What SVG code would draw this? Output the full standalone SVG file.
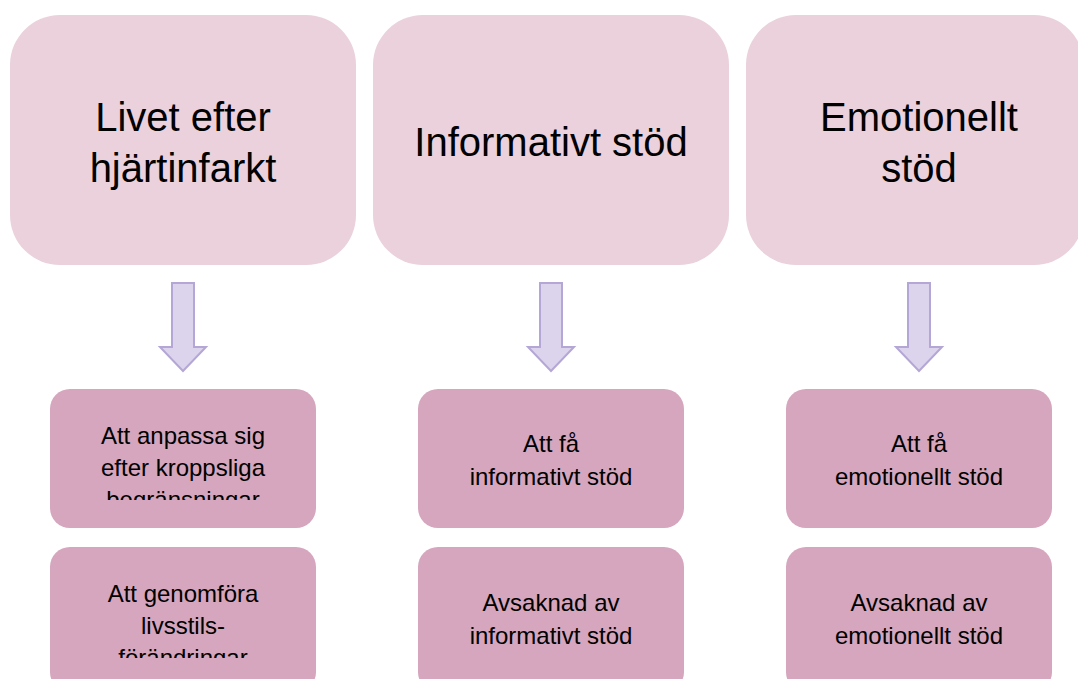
<svg xmlns="http://www.w3.org/2000/svg" width="1078" height="679" viewBox="0 0 1078 679">
<style>
.top{fill:#ead1dc}
.bot{fill:#d5a6bd}
.arrow{fill:#dcd4ec;stroke:#b4a7d6;stroke-width:2}
text{font-family:"Liberation Sans",Arial,sans-serif;fill:#000;text-anchor:middle}
.t1{font-size:40px}
.t2{font-size:24px}
</style>
<defs>
<clipPath id="c1"><rect x="50" y="389" width="266" height="111"/></clipPath>
<clipPath id="c2"><rect x="50" y="547" width="266" height="111"/></clipPath>
</defs>
<rect width="1078" height="679" fill="#fff"/>
<g id="n-livet"><rect class="top" x="10" y="15" width="346" height="250" rx="50"/><text class="t1" x="183" y="131">Livet efter</text><text class="t1" x="183" y="182">hjärtinfarkt</text></g>
<g id="n-info"><rect class="top" x="373" y="15" width="356" height="250" rx="50"/><text class="t1" x="551" y="156">Informativt stöd</text></g>
<g id="n-emo"><rect class="top" x="746" y="15" width="338" height="250" rx="50"/><text class="t1" x="919" y="131">Emotionellt</text><text class="t1" x="919" y="182">stöd</text></g>
<g id="connectors">
<path class="arrow" d="M172,283 H194 V347 H206 L183,371 L160,347 H172 Z"/>
<path class="arrow" d="M540,283 H562 V347 H574 L551,371 L528,347 H540 Z"/>
<path class="arrow" d="M908,283 H930 V347 H942 L919,371 L896,347 H908 Z"/>
</g>
<g id="n-anpassa"><rect class="bot" x="50" y="389" width="266" height="139" rx="20"/><g clip-path="url(#c1)"><text class="t2" x="183" y="444">Att anpassa sig</text><text class="t2" x="183" y="476">efter kroppsliga</text><text class="t2" x="183" y="508">begränsningar</text></g></g>
<g id="n-genomfora"><rect class="bot" x="50" y="547" width="266" height="145" rx="20"/><g clip-path="url(#c2)"><text class="t2" x="183" y="602">Att genomföra</text><text class="t2" x="183" y="634">livsstils-</text><text class="t2" x="183" y="666">förändringar</text></g></g>
<g id="n-fa-info"><rect class="bot" x="418" y="389" width="266" height="139" rx="20"/><text class="t2" x="551" y="452">Att få</text><text class="t2" x="551" y="485">informativt stöd</text></g>
<g id="n-avs-info"><rect class="bot" x="418" y="547" width="266" height="145" rx="20"/><text class="t2" x="551" y="611">Avsaknad av</text><text class="t2" x="551" y="644">informativt stöd</text></g>
<g id="n-fa-emo"><rect class="bot" x="786" y="389" width="266" height="139" rx="20"/><text class="t2" x="919" y="452">Att få</text><text class="t2" x="919" y="485">emotionellt stöd</text></g>
<g id="n-avs-emo"><rect class="bot" x="786" y="547" width="266" height="145" rx="20"/><text class="t2" x="919" y="611">Avsaknad av</text><text class="t2" x="919" y="644">emotionellt stöd</text></g>
</svg>
